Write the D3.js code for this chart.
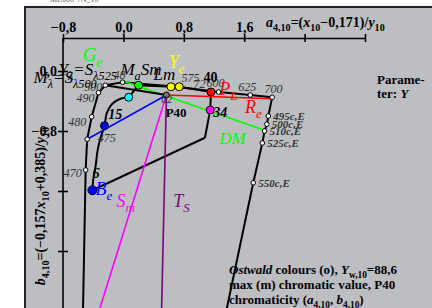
<!DOCTYPE html>
<html>
<head>
<meta charset="utf-8">
<script src="https://cdn.jsdelivr.net/npm/d3@7"></script>
<style>
  body { margin: 0; background: #fff; }
  svg { display: block; font-family: "Liberation Serif", "Times New Roman", serif; }
</style>
</head>
<body>
<div id="chart"></div>
<script>
// axis ticks
const xTicks = [-0.8, 0.0, 0.8, 1.6, 2.4, 3.2];
const xTickLabels = ["\u22120,8", "0,0", "0,8", "1,6", "", ""];
const yTicks = [0.0, -0.8, -1.6, -2.4];
const yTickLabels = ["0,0", "\u22120,8", "", ""];

// spectral locus (a, b), bottom end runs off the chart
const locusNm = ["", "470", "475", "480", "490", "500", "525", "575", "600", "625", "700"];
const locusA = [-0.54, -0.50, -0.48, -0.42, -0.33, -0.24, -0.01, 0.70, 1.26, 1.68, 1.97];
const locusB = [-3.45, -1.32, -0.91, -0.61, -0.29, -0.19, -0.15, -0.21, -0.28, -0.32, -0.35];

// complementary (c,E) line from 700 nm downwards
const compNm = ["495c,E", "500c,E", "510c,E", "525c,E", "550c,E", ""];
const compA = [1.92, 1.90, 1.87, 1.84, 1.72, 1.31];
const compB = [-0.60, -0.71, -0.80, -0.96, -1.49, -3.45];

// max chromatic colour curve (closed)
const hueA = [-0.41, -0.40, -0.37, -0.34, -0.30, -0.25, -0.22, -0.15, -0.04, 0.07, 0.20, 0.63, 0.74, 1.16, 1.15, 1.08];
const hueB = [-1.59, -1.45, -1.28, -1.05, -0.88, -0.73, -0.56, -0.44, -0.37, -0.35, -0.19, -0.21, -0.21, -0.28, -0.52, -0.89];

// coloured markers
const markA = [-0.41, -0.25, 0.07, 0.20, 0.63, 0.74, 1.16, 1.15];
const markB = [-1.59, -0.73, -0.35, -0.19, -0.21, -0.21, -0.28, -0.52];
const markColor = ["#0000ff", "#0000ff", "#00ffff", "#00ff00", "#ffff00", "#ffff00", "#ff0000", "#ff00ff"];

// grey point P40
const p40 = [0.57, -0.32];

// rays from P40
const rayEndA = [-0.48, 1.97, -0.40, 0.50, -0.24];
const rayEndB = [-0.91, -0.37, -3.45, -3.45, -0.19];
const rayColor = ["#0000ff", "#ff0000", "#ff00ff", "#800080", "#000000"];

// green DM line
const greenA = [-0.04, 1.87];
const greenB = [-0.12, -0.79];

// black edge from magenta corner to Be
const edgeA = [1.08, -0.41];
const edgeB = [-0.89, -1.59];

// labels: parts = [text, sub?, italic?]
const labels = [
  {a: -0.54, b: 0.13, size: 19, color: "#00ff00", parts: [["G", 0, 1], ["e", 1, 1]]},
  {a: 0.60, b: 0.04, size: 18, color: "#ffff00", parts: [["Y", 0, 1], ["e", 1, 1]]},
  {a: 1.27, b: -0.32, size: 18, color: "#ff0000", parts: [["P", 0, 1], ["L", 1, 1]]},
  {a: 1.61, b: -0.56, size: 18, color: "#ff0000", parts: [["R", 0, 1], ["e", 1, 1]]},
  {a: 1.27, b: -0.97, size: 17, color: "#00ff00", parts: [["DM", 0, 1]]},
  {a: -0.37, b: -1.65, size: 18, color: "#0000ff", parts: [["B", 0, 1], ["e", 1, 1]]},
  {a: -0.09, b: -1.81, size: 18, color: "#ff00ff", parts: [["S", 0, 1], ["m", 1, 1]]},
  {a: 0.66, b: -1.81, size: 18, color: "#800080", parts: [["T", 0, 1], ["S", 1, 1]]},
  {a: 0.40, b: -0.12, size: 17, color: "#000", parts: [["L", 0, 1], ["m", 0, 1]]},
  {a: -0.04, b: -0.05, size: 17, color: "#000", parts: [["M", 0, 1], ["a", 1, 1], ["Sm", 0, 1]]},
  {a: -0.86, b: -0.05, size: 17, color: "#000", parts: [["Y", 0, 1], ["\u03bb", 1, 1], ["=S", 0, 1], ["\u03bb", 1, 1], ["525", 1, 1]]},
  {a: -1.19, b: -0.16, size: 17, color: "#000", parts: [["M", 0, 1], ["\u03bb", 1, 1], ["=S", 0, 1], ["\u03bb", 1, 1], ["500", 1, 1]]},
  {a: -0.20, b: -0.64, size: 14, color: "#000", bold: 1, parts: [["15", 0, 1]]},
  {a: -0.41, b: -1.43, size: 14, color: "#000", bold: 1, parts: [["6", 0, 1]]},
  {a: 1.19, b: -0.61, size: 14, color: "#000", bold: 1, parts: [["34", 0, 1]]},
  {a: 1.06, b: -0.14, size: 14, color: "#000", bold: 1, parts: [["40", 0, 0]]},
  {a: 0.93, b: -0.23, size: 12, color: "#333", parts: [["72", 0, 1]]},
  {a: 0.56, b: -0.61, size: 13, color: "#000", bold: 1, parts: [["P40", 0, 0]]},
  {a: 0.50, b: -0.42, size: 11, color: "#333", parts: [["62", 0, 1]]},
  {a: -0.13, b: -0.11, size: 12, color: "#333", parts: [["48", 0, 1]]}
];

// wavelength labels near the locus points
const nmLabA = [-0.79, -0.34, -0.73, -0.62, -0.52, 0.77, 1.10, 1.52, 1.87];
const nmLabB = [-1.41, -0.95, -0.73, -0.41, -0.27, -0.15, -0.21, -0.27, -0.29];
const nmLabText = ["470", "475", "480", "490", "500", "575", "600", "625", "700"];

const W = 432, H = 308;
const x = d3.scaleLinear().domain([-0.8, 3.2]).range([63, 365]);
const y = d3.scaleLinear().domain([0, -0.8]).range([71, 131]);

const svg = d3.select("#chart").append("svg")
  .attr("width", W)
  .attr("height", H);

svg.append("rect").attr("width", W).attr("height", H).attr("fill", "#fff");

// tiny clipped title at the very top
svg.append("text").attr("x", 50).attr("y", 2).attr("font-size", 8).attr("fill", "#555").text("ME600-7N_10");

svg.append("rect")
  .attr("x", 25).attr("y", 7)
  .attr("width", 430).attr("height", 320)
  .attr("fill", "#bdbec2")
  .attr("stroke", "#222")
  .attr("stroke-width", 2);

// axes
const xAxis = svg.append("g")
  .attr("transform", "translate(0,38)")
  .call(d3.axisTop(x).tickValues(xTicks).tickSize(4).tickSizeOuter(0).tickPadding(2)
    .tickFormat((d, i) => xTickLabels[i]));
xAxis.selectAll(".tick line").attr("y1", 4).attr("stroke-width", 1.6);
xAxis.select(".domain").attr("stroke-width", 1.6);
xAxis.selectAll("text").attr("font-size", 14).attr("font-weight", "bold").attr("fill", "#000")
  .attr("font-family", "Liberation Serif");

const yAxis = svg.append("g")
  .attr("transform", "translate(63,0)")
  .call(d3.axisLeft(y).tickValues(yTicks).tickSize(5).tickSizeOuter(0).tickPadding(1)
    .tickFormat((d, i) => yTickLabels[i]));
yAxis.select(".domain").remove();
yAxis.selectAll(".tick line").attr("x1", 5).attr("stroke-width", 1.6);
yAxis.selectAll("text").attr("font-size", 14).attr("font-weight", "bold").attr("fill", "#000")
  .attr("font-family", "Liberation Serif");
svg.append("line")
  .attr("x1", 63).attr("x2", 63)
  .attr("y1", 38).attr("y2", y(-3.6))
  .attr("stroke", "#000").attr("stroke-width", 1.6);

function addParts(t, parts, size) {
  let down = false;
  parts.forEach(p => {
    const s = t.append("tspan").text(p[0]);
    if (p[2]) s.attr("font-style", "italic");
    if (p[1] && !down) { s.attr("font-size", size * 0.72).attr("dy", size * 0.28); down = true; }
    else if (p[1]) { s.attr("font-size", size * 0.72); }
    else if (down) { s.attr("dy", -size * 0.28); down = false; }
  });
}

// axis titles
const xt = svg.append("text").attr("x", 266).attr("y", 27)
  .attr("font-size", 14).attr("font-weight", "bold");
addParts(xt, [["a", 0, 1], ["4,10", 1, 0], ["=(", 0, 0], ["x", 0, 1], ["10", 1, 0],
  ["\u22120,171)/", 0, 0], ["y", 0, 1], ["10", 1, 0]], 14);

const yt = svg.append("text").attr("transform", "translate(45,127) rotate(-90)")
  .attr("text-anchor", "end").attr("font-size", 14).attr("font-weight", "bold");
addParts(yt, [["b", 0, 1], ["4,10", 1, 0], ["=(\u22120,157", 0, 0], ["x", 0, 1], ["10", 1, 0],
  ["+0,385)/", 0, 0], ["y", 0, 1], ["10", 1, 0]], 14);

const line = d3.line().x(d => x(d[0])).y(d => y(d[1]));

// spectral locus and complementary line
const locus = locusA.map((a, i) => [a, locusB[i]]);
const comp = [locus[locus.length - 1]].concat(compA.map((a, i) => [a, compB[i]]));
svg.append("path").attr("d", line(locus)).attr("fill", "none").attr("stroke", "#000").attr("stroke-width", 2);
svg.append("path").attr("d", line(comp)).attr("fill", "none").attr("stroke", "#000").attr("stroke-width", 2);

// hue curve
const hue = hueA.map((a, i) => [a, hueB[i]]);
svg.append("path").attr("d", d3.line().x(d => x(d[0])).y(d => y(d[1])).curve(d3.curveCatmullRom)(hue.slice(0, 10)))
  .attr("fill", "none").attr("stroke", "#000").attr("stroke-width", 2);
svg.append("path").attr("d", line(hue.slice(9)))
  .attr("fill", "none").attr("stroke", "#000").attr("stroke-width", 2);
svg.append("path").attr("d", line(edgeA.map((a, i) => [a, edgeB[i]])))
  .attr("fill", "none").attr("stroke", "#000").attr("stroke-width", 2);

// green DM line
svg.append("path").attr("d", line(greenA.map((a, i) => [a, greenB[i]])))
  .attr("fill", "none").attr("stroke", "#00ff00").attr("stroke-width", 1.6);

// rays from P40
rayEndA.forEach((a, i) => {
  svg.append("line")
    .attr("x1", x(p40[0])).attr("y1", y(p40[1]))
    .attr("x2", x(a)).attr("y2", y(rayEndB[i]))
    .attr("stroke", rayColor[i]).attr("stroke-width", i === 4 ? 2 : 1.6);
});

// white locus points
svg.selectAll(".lp").data(locus.slice(1).concat(comp.slice(1, comp.length - 1)))
  .join("circle").attr("class", "lp")
  .attr("cx", d => x(d[0])).attr("cy", d => y(d[1])).attr("r", 2.3)
  .attr("fill", "#fff").attr("stroke", "#000").attr("stroke-width", 1);

// coloured markers
svg.selectAll(".mk").data(markA.map((a, i) => [a, markB[i], markColor[i]]))
  .join("circle").attr("class", "mk")
  .attr("cx", d => x(d[0])).attr("cy", d => y(d[1])).attr("r", (d, i) => i === 0 ? 4.5 : 4)
  .attr("fill", d => d[2]).attr("stroke", "#000").attr("stroke-width", 1);
svg.append("circle").attr("cx", x(p40[0])).attr("cy", y(p40[1])).attr("r", 3)
  .attr("fill", "#777").attr("stroke", "#000").attr("stroke-width", 1);

// wavelength labels
svg.selectAll(".nm").data(nmLabText)
  .join("text").attr("class", "nm")
  .attr("x", (d, i) => x(nmLabA[i])).attr("y", (d, i) => y(nmLabB[i]))
  .attr("font-size", 12).attr("font-style", "italic").attr("fill", "#333")
  .text(d => d);
svg.selectAll(".cn").data(compNm.slice(0, 5))
  .join("text").attr("class", "cn")
  .attr("x", (d, i) => x(compA[i]) + 5).attr("y", (d, i) => y(compB[i]) + 4)
  .attr("font-size", 11).attr("font-style", "italic").attr("font-weight", "bold").attr("fill", "#333")
  .text(d => d);

// other labels
labels.forEach(l => {
  const t = svg.append("text").attr("x", x(l.a)).attr("y", y(l.b))
    .attr("font-size", l.size).attr("fill", l.color)
    .attr("font-weight", l.bold ? "bold" : "normal");
  addParts(t, l.parts, l.size);
});

// legend text
const par = svg.append("g").attr("font-size", 13).attr("font-weight", "bold");
par.append("text").attr("x", 377).attr("y", 84).text("Parame-");
addParts(par.append("text").attr("x", 377).attr("y", 98), [["ter: ", 0, 0], ["Y", 0, 1]], 13);

const foot = svg.append("g").attr("font-size", 13).attr("font-weight", "bold");
addParts(foot.append("text").attr("x", 229).attr("y", 274),
  [["Ostwald", 0, 1], [" colours (o), ", 0, 0], ["Y", 0, 1], ["w,10", 1, 0], ["=88,6", 0, 0]], 13);
foot.append("text").attr("x", 229).attr("y", 289).text("max (m) chromatic value, P40");
addParts(foot.append("text").attr("x", 229).attr("y", 304),
  [["chromaticity (", 0, 0], ["a", 0, 1], ["4,10", 1, 0], [", ", 0, 0], ["b", 0, 1], ["4,10", 1, 0], [")", 0, 0]], 13);
</script>
</body>
</html>
